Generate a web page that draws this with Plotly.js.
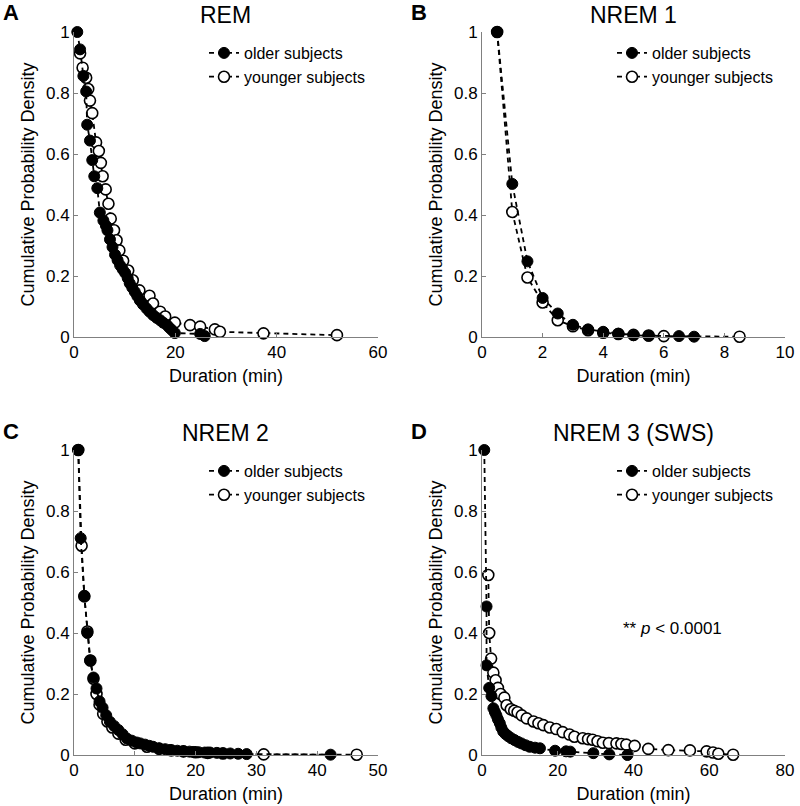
<!DOCTYPE html>
<html>
<head>
<meta charset="utf-8">
<script src="https://cdn.plot.ly/plotly-3.0.1.min.js"></script>
<style>html,body{margin:0;padding:0;background:#fff;}#chart{width:800px;height:806px;}</style>
</head>
<body>
<div id="chart"></div>
<script>
// ---- Panel A: REM ----
const remOlderX = [0.65,1.2,1.85,2.4,2.6,3.15,3.6,4.0,4.6,5.1,5.8,6.3,6.6,7.1,7.6,8.1,8.6,9.1,9.6,10.1,10.6,11.0,11.5,12.0,12.5,13.0,13.6,14.3,14.9,15.6,16.3,17.0,17.6,18.3,18.8,19.3,19.9,24.9,25.8];
const remOlderY = [1.0,0.943,0.856,0.805,0.696,0.644,0.58,0.527,0.488,0.408,0.382,0.365,0.35,0.32,0.295,0.27,0.252,0.235,0.222,0.21,0.193,0.176,0.162,0.148,0.134,0.12,0.107,0.094,0.083,0.072,0.063,0.055,0.047,0.04,0.031,0.023,0.013,0.01,0.003];
const remYoungerX = [1.2,1.7,2.4,2.8,3.15,3.6,4.35,4.9,5.3,5.65,6.25,6.8,7.25,7.9,8.4,8.95,9.7,10.7,11.6,12.9,14.9,15.6,17.0,18.0,19.9,22.9,24.9,27.8,28.8,37.4,51.9];
const remYoungerY = [0.93,0.883,0.85,0.813,0.775,0.734,0.638,0.61,0.571,0.527,0.484,0.437,0.388,0.35,0.317,0.284,0.25,0.218,0.186,0.153,0.135,0.11,0.083,0.067,0.047,0.039,0.034,0.025,0.017,0.012,0.006];

// ---- Panel B: NREM 1 ----
const n1OlderX = [0.5,1.0,1.5,2.0,2.5,3.0,3.5,4.0,4.5,5.0,5.5,6.5,7.0];
const n1OlderY = [1.0,0.502,0.248,0.128,0.077,0.04,0.025,0.017,0.011,0.006,0.004,0.003,0.001];
const n1YoungerX = [0.5,1.0,1.5,2.0,2.5,3.0,3.5,4.0,4.5,5.0,5.5,6.0,8.5];
const n1YoungerY = [1.0,0.41,0.195,0.113,0.055,0.035,0.022,0.014,0.01,0.007,0.005,0.003,0.001];

// ---- Panel C: NREM 2 ----
const n2OlderX = [0.7,1.1,1.7,2.2,2.65,3.2,3.7,4.2,4.7,5.3,5.9,6.6,7.3,8.0,8.7,9.5,10.3,10.9,11.7,12.4,13.0,14.0,15.0,15.8,17.0,18.0,19.0,19.6,20.5,21.5,22.4,23.5,24.5,25.7,27.0,28.4,42.2];
const n2OlderY = [1.0,0.711,0.522,0.40,0.31,0.254,0.218,0.176,0.155,0.13,0.109,0.095,0.082,0.068,0.054,0.047,0.041,0.038,0.034,0.03,0.027,0.022,0.019,0.016,0.014,0.012,0.011,0.01,0.009,0.008,0.008,0.007,0.006,0.005,0.004,0.003,0.001];
const n2YoungerX = [0.7,1.25,1.7,2.2,2.7,3.2,3.7,4.2,4.8,5.5,6.3,7.3,8.5,10.0,12.0,14.0,16.0,18.0,20.0,22.0,24.5,31.2,46.5];
const n2YoungerY = [1.0,0.686,0.52,0.405,0.31,0.25,0.2,0.165,0.135,0.11,0.09,0.07,0.05,0.038,0.027,0.02,0.015,0.012,0.009,0.007,0.005,0.002,0.001];

// ---- Panel D: NREM 3 (SWS) ----
const n3OlderX = [0.6,1.2,1.2,1.9,2.5,3.0,3.4,3.8,4.2,4.7,5.1,5.6,6.2,6.9,7.7,8.6,9.5,10.4,11.5,12.6,14.0,15.3,19.3,22.2,23.3,29.4,33.6,38.4];
const n3OlderY = [1.0,0.487,0.294,0.22,0.193,0.153,0.141,0.13,0.117,0.104,0.09,0.077,0.069,0.062,0.055,0.049,0.043,0.038,0.032,0.027,0.024,0.022,0.014,0.012,0.011,0.006,0.002,0.0];
const n3YoungerX = [1.66,1.9,2.4,3.0,3.6,4.2,4.9,5.9,6.5,7.6,8.5,9.4,10.5,11.8,13.6,14.9,16.2,17.9,19.6,21.3,23.1,24.4,26.6,28.0,29.2,30.5,31.9,33.5,35.5,36.8,38.1,40.3,43.9,49.2,54.9,59.3,61.0,62.4,66.3];
const n3YoungerY = [0.59,0.40,0.316,0.27,0.245,0.22,0.2,0.188,0.163,0.15,0.145,0.14,0.13,0.12,0.11,0.104,0.098,0.09,0.085,0.075,0.067,0.06,0.055,0.052,0.05,0.045,0.04,0.039,0.038,0.036,0.034,0.03,0.02,0.016,0.015,0.012,0.008,0.004,0.001];

const panelTitles = ["REM","NREM 1","NREM 2","NREM 3 (SWS)"];
const panelLetters = ["A","B","C","D"];
const xRanges = [[0,60],[0,10],[0,50],[0,80]];
const xDtick = [20,2,10,20];
const yTicks = [0,0.2,0.4,0.6,0.8,1];
const yTickText = ["0","0.2","0.4","0.6","0.8","1"];
const seriesNames = ["older subjects","younger subjects"];
const xTitle = "Duration (min)";
const yTitle = "Cumulative Probability Density";
const annotText = "** <i>p</i> < 0.0001";

const panels = [
  {older:[remOlderX,remOlderY], younger:[remYoungerX,remYoungerY]},
  {older:[n1OlderX,n1OlderY], younger:[n1YoungerX,n1YoungerY]},
  {older:[n2OlderX,n2OlderY], younger:[n2YoungerX,n2YoungerY]},
  {older:[n3OlderX,n3OlderY], younger:[n3YoungerX,n3YoungerY]}
];

const W = 800, H = 806;
const FONT = "Liberation Sans, Arial, sans-serif";
// pixel boxes: [left, right, top(y=1), bottom(y=0)]
const boxes = [[74,378,32,337],[482,785,32,337],[74,378,450,755],[482,785,450,755]];

const data = [];
const layout = {
  width: W, height: H,
  margin: {l:0,r:0,t:0,b:0},
  paper_bgcolor: "#fff", plot_bgcolor: "#fff",
  showlegend: true,
  font: {family: FONT, size: 15, color: "#000"},
  annotations: [], shapes: []
};

panels.forEach((p, i) => {
  const n = i + 1;
  const xa = n === 1 ? "x" : "x" + n;
  const ya = n === 1 ? "y" : "y" + n;
  const lg = n === 1 ? "legend" : "legend" + n;
  const b = boxes[i];
  // younger (open)
  data.push({
    x: p.younger[0], y: p.younger[1], xaxis: xa, yaxis: ya,
    type: "scatter", mode: "lines+markers", name: seriesNames[1],
    legend: lg, legendrank: 2, cliponaxis: false,
    line: {color: "#000", width: 1.8, dash: "5px,4px"},
    marker: {symbol: "circle", size: 11, color: "#fff", line: {color: "#000", width: 1.6}}
  });
  // older (filled)
  data.push({
    x: p.older[0], y: p.older[1], xaxis: xa, yaxis: ya,
    type: "scatter", mode: "lines+markers", name: seriesNames[0],
    legend: lg, legendrank: 1, cliponaxis: false,
    line: {color: "#000", width: 1.8, dash: "5px,4px"},
    marker: {symbol: "circle", size: 11, color: "#000", line: {color: "#000", width: 1}}
  });
  const axCommon = {
    showgrid: false, zeroline: false, showline: true, linecolor: "#808080", linewidth: 1,
    ticks: "inside", ticklen: 4, tickcolor: "#808080", tickwidth: 1,
    tickfont: {family: FONT, size: 17, color: "#000"}, mirror: false, fixedrange: true
  };
  layout["xaxis" + (n === 1 ? "" : n)] = Object.assign({}, axCommon, {
    domain: [b[0]/W, b[1]/W], range: xRanges[i], tick0: 0, dtick: xDtick[i],
    anchor: ya, title: {text: xTitle, font: {family: FONT, size: 18, color: "#000"}, standoff: 7}
  });
  layout["yaxis" + (n === 1 ? "" : n)] = Object.assign({}, axCommon, {
    domain: [1 - b[3]/H, 1 - b[2]/H], range: [0, 1], tickvals: yTicks, ticktext: yTickText,
    anchor: xa, title: {text: yTitle, font: {family: FONT, size: 18, color: "#000"}, standoff: 6}
  });
  layout[lg] = {
    x: (b[0] + 130)/W, y: 1 - (b[2] + 4)/H, xanchor: "left", yanchor: "top",
    bgcolor: "rgba(0,0,0,0)", borderwidth: 0,
    font: {family: FONT, size: 16, color: "#000"}, itemwidth: 30
  };
  layout.annotations.push({
    text: panelTitles[i], xref: "paper", yref: "paper",
    x: (b[0] + b[1]) / 2 / W, y: 1 - (b[2] - 17)/H, xanchor: "center", yanchor: "middle",
    showarrow: false, font: {family: FONT, size: 23, color: "#000"}
  });
  layout.annotations.push({
    text: "<b>" + panelLetters[i] + "</b>", xref: "paper", yref: "paper",
    x: (b[0] - 63)/W, y: 1 - (b[2] - 19)/H, xanchor: "center", yanchor: "middle",
    showarrow: false, font: {family: FONT, size: 22, color: "#000"}
  });
});

layout.annotations.push({
  text: annotText, xref: "x4", yref: "y4", x: 50.4, y: 0.415,
  xanchor: "center", yanchor: "middle", showarrow: false,
  font: {family: FONT, size: 17, color: "#000"}
});

Plotly.newPlot("chart", data, layout, {displayModeBar: false, staticPlot: true});
</script>
</body>
</html>
